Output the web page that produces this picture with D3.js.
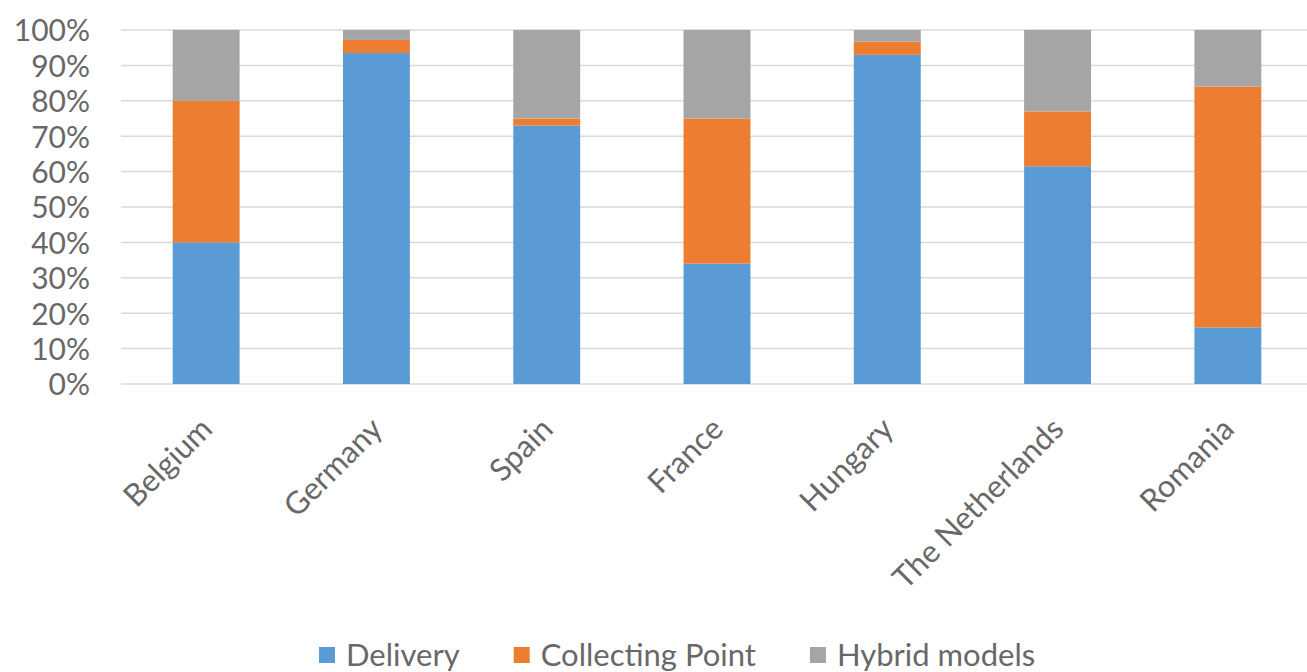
<!DOCTYPE html>
<html>
<head>
<meta charset="utf-8">
<script src="https://cdn.jsdelivr.net/npm/d3@7"></script>
<style>
  html, body { margin: 0; padding: 0; background: #fff; }
  svg { display: block; }
  text { font-family: Lato, "Open Sans", sans-serif; fill: #686868; }
</style>
</head>
<body>
<svg id="chart" width="1307" height="672"></svg>
<script>
// Share of each delivery model per country (percent)
const countries = ["Belgium", "Germany", "Spain", "France", "Hungary", "The Netherlands", "Romania"];
const delivery = [40, 93.5, 73, 34, 93, 61.5, 16];
const collectingPoint = [40, 3.7, 2, 41, 3.7, 15.5, 68];
const hybridModels = [20, 2.8, 25, 25, 3.3, 23, 16];
const seriesNames = ["Delivery", "Collecting Point", "Hybrid models"];
const seriesColors = ["#5B9BD5", "#ED7D31", "#A5A5A5"];
const yTicks = [0, 10, 20, 30, 40, 50, 60, 70, 80, 90, 100];

const rows = countries.map((c, i) => ({
  country: c,
  "Delivery": delivery[i],
  "Collecting Point": collectingPoint[i],
  "Hybrid models": hybridModels[i]
}));

const svg = d3.select("#chart");
const plot = { left: 121, right: 1313, top: 30, bottom: 384 };

const x = d3.scaleBand()
  .domain(countries)
  .range([plot.left, plot.right])
  .paddingInner(0.607)
  .paddingOuter(0.3035);

const y = d3.scaleLinear()
  .domain([0, 100])
  .range([plot.bottom, plot.top]);

// Horizontal gridlines
svg.append("g")
  .selectAll("line")
  .data(yTicks)
  .join("line")
  .attr("x1", plot.left)
  .attr("x2", plot.right)
  .attr("y1", d => y(d))
  .attr("y2", d => y(d))
  .attr("stroke", "#d9d9d9")
  .attr("stroke-width", 1.5);

// Y axis labels
const yAxis = d3.axisLeft(y)
  .tickValues(yTicks)
  .tickFormat(d => d + "%")
  .tickSize(0)
  .tickPadding(0);

const yg = svg.append("g")
  .attr("transform", `translate(${plot.left - 31},0)`)
  .call(yAxis);
yg.select(".domain").remove();
yg.selectAll("text")
  .style("font-size", "30px")
  .attr("dy", "0.36em");

// Stacked bars
const stack = d3.stack().keys(seriesNames);
const layers = stack(rows);

svg.append("g")
  .selectAll("g")
  .data(layers)
  .join("g")
  .attr("fill", (d, i) => seriesColors[i])
  .selectAll("rect")
  .data(d => d)
  .join("rect")
  .attr("x", d => x(d.data.country))
  .attr("width", x.bandwidth())
  .attr("y", d => y(d[1]))
  .attr("height", d => y(d[0]) - y(d[1]));

// X axis labels, rotated
const xAxis = d3.axisBottom(x).tickSize(0).tickPadding(0);
const xg = svg.append("g")
  .attr("transform", `translate(0,${plot.bottom})`)
  .call(xAxis);
xg.select(".domain").remove();
xg.selectAll("text")
  .style("font-size", "31px")
  .attr("text-anchor", "end")
  .attr("dy", "0")
  .attr("y", 0)
  .attr("transform", "translate(8,47) rotate(-45)");

// Legend
const legend = svg.append("g").attr("transform", "translate(319,655)");
let cursor = 0;
seriesNames.forEach((name, i) => {
  const item = legend.append("g").attr("transform", `translate(${cursor},0)`);
  item.append("rect")
    .attr("x", 0).attr("y", -8)
    .attr("width", 16).attr("height", 16)
    .attr("fill", seriesColors[i]);
  const t = item.append("text")
    .attr("x", 27)
    .attr("y", 0)
    .attr("dy", "0.36em")
    .style("font-size", "31px")
    .text(name);
  const w = t.node().getComputedTextLength();
  cursor += 27 + w + 54;
});
</script>
</body>
</html>
